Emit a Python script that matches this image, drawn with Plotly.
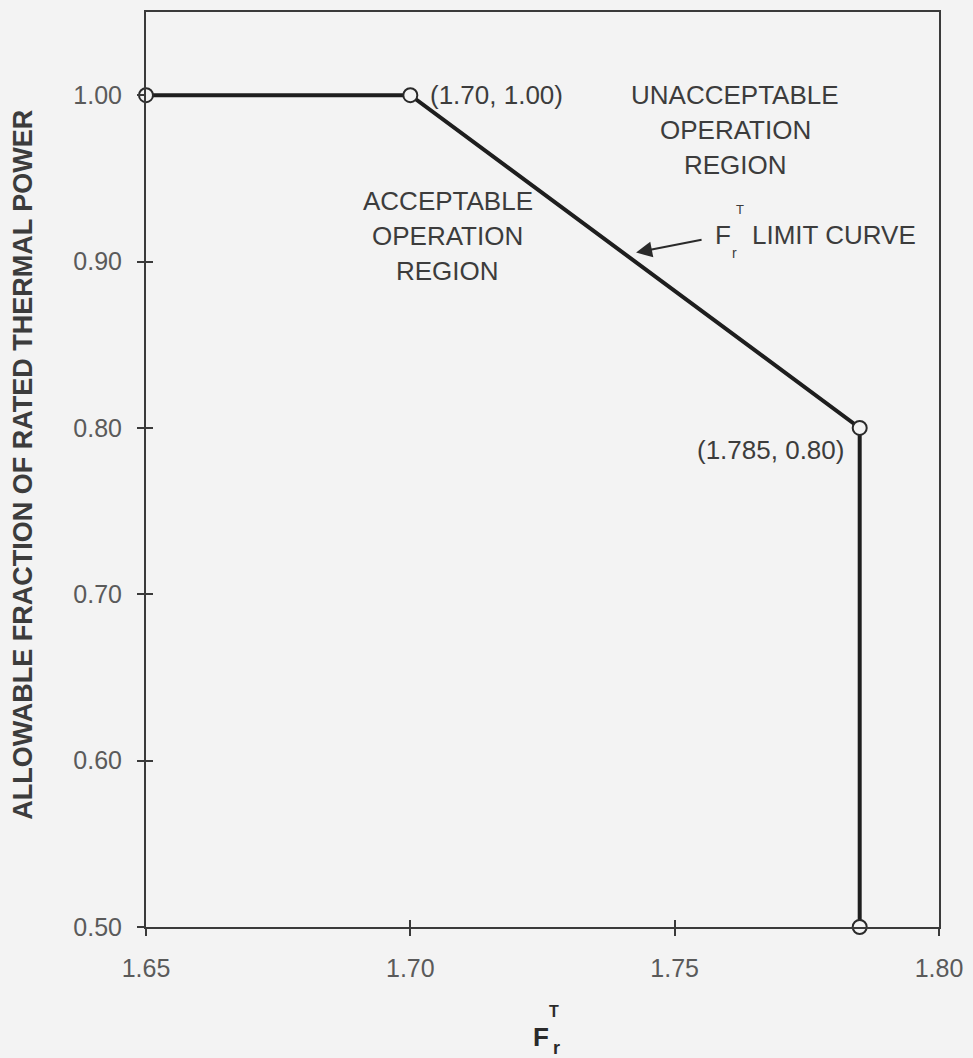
import plotly.graph_objects as go

# ---- data ----
fr_limit = [1.65, 1.70, 1.785, 1.785]
power_fraction = [1.00, 1.00, 0.80, 0.50]

x_ticks = [1.65, 1.70, 1.75, 1.80]
x_tick_labels = ["1.65", "1.70", "1.75", "1.80"]
y_ticks = [0.50, 0.60, 0.70, 0.80, 0.90, 1.00]
y_tick_labels = ["0.50", "0.60", "0.70", "0.80", "0.90", "1.00"]

x_range = [1.65, 1.80]
y_range = [0.50, 1.05]

BG = "#f3f3f3"
LINE = "#1e1e1e"
AXIS = "#3a3a3a"
FAM = "Liberation Sans, Arial"
TICKFONT = dict(family=FAM, size=25, color="#5a5a5a")
TEXTFONT = dict(family=FAM, size=26, color="#3c3c3c")

fig = go.Figure()

fig.add_trace(go.Scatter(
    x=fr_limit, y=power_fraction, mode="lines+markers",
    line=dict(color=LINE, width=4),
    marker=dict(symbol="circle", size=14, color=BG, line=dict(color="#2a2a2a", width=2)),
    showlegend=False, hoverinfo="skip", cliponaxis=False,
))
# invisible trace to carry the overlay axes (inside ticks)
fig.add_trace(go.Scatter(x=x_range, y=y_range, xaxis="x2", yaxis="y2",
                         mode="markers", marker=dict(opacity=0),
                         showlegend=False, hoverinfo="skip"))

fig.update_layout(
    width=973, height=1058,
    margin=dict(l=146, r=31, t=10, b=131),
    paper_bgcolor=BG, plot_bgcolor=BG,
    xaxis=dict(range=x_range, tickvals=x_ticks, ticktext=x_tick_labels,
               showgrid=False, zeroline=False, showline=True, mirror=True,
               linecolor=AXIS, linewidth=2, ticks="outside", ticklen=7,
               tickwidth=2, tickcolor=AXIS, tickfont=TICKFONT,
               ticklabelstandoff=11),
    yaxis=dict(range=y_range, tickvals=y_ticks, ticktext=y_tick_labels,
               showgrid=False, zeroline=False, showline=True, mirror=True,
               linecolor=AXIS, linewidth=2, ticks="outside", ticklen=7,
               tickwidth=2, tickcolor=AXIS, tickfont=TICKFONT,
               ticklabelstandoff=10),
    xaxis2=dict(range=x_range, overlaying="x", tickvals=x_ticks[1:3],
                showticklabels=False, showgrid=False, zeroline=False,
                ticks="inside", ticklen=7, tickwidth=2, tickcolor=AXIS),
    yaxis2=dict(range=y_range, overlaying="y", tickvals=y_ticks[1:5],
                showticklabels=False, showgrid=False, zeroline=False,
                ticks="inside", ticklen=7, tickwidth=2, tickcolor=AXIS),
)

ann = []
# y-axis title
ann.append(dict(text="<b>ALLOWABLE FRACTION OF RATED THERMAL POWER</b>",
                xref="paper", yref="paper", x=-0.156, y=0.5, xanchor="center",
                yanchor="middle", textangle=-90, showarrow=False,
                font=dict(family=FAM, size=27, color="#3c3c3c"),
                yshift=5))
# x-axis title F_r^T
ann.append(dict(text="<b>F</b>", xref="x", yref="paper", x=1.7248, y=0, yshift=-110,
                xanchor="center", yanchor="middle", showarrow=False,
                font=dict(family=FAM, size=26, color="#2a2a2a")))
ann.append(dict(text="<b>T</b>", xref="x", yref="paper", x=1.7271, y=0, yshift=-84,
                xanchor="center", yanchor="middle", showarrow=False,
                font=dict(family=FAM, size=16, color="#2a2a2a")))
ann.append(dict(text="<b>r</b>", xref="x", yref="paper", x=1.7277, y=0, yshift=-121,
                xanchor="center", yanchor="middle", showarrow=False,
                font=dict(family=FAM, size=18, color="#2a2a2a")))

# point labels
ann.append(dict(text="(1.70, 1.00)", x=fr_limit[1], y=power_fraction[1],
                xanchor="left", yanchor="middle", xshift=18, showarrow=False,
                font=TEXTFONT))
ann.append(dict(text="(1.785, 0.80)", x=fr_limit[2], y=power_fraction[2],
                xanchor="right", yanchor="middle", xshift=-14, yshift=-22,
                showarrow=False, font=TEXTFONT))

# region labels
for i, line in enumerate(["UNACCEPTABLE", "OPERATION", "REGION"]):
    ann.append(dict(text=line, x=1.7615, y=1.00, yshift=-35 * i,
                    xanchor="center", yanchor="middle", showarrow=False,
                    font=TEXTFONT))
for i, line in enumerate(["ACCEPTABLE", "OPERATION", "REGION"]):
    ann.append(dict(text=line, x=1.7071, y=0.9363, yshift=-35 * i,
                    xanchor="center", yanchor="middle", showarrow=False,
                    font=TEXTFONT))

# limit-curve label with arrow
ann.append(dict(text="", x=1.7427, y=0.9054, ax=67, ay=-13, axref="pixel",
                ayref="pixel", showarrow=True, arrowhead=2, arrowsize=1.6,
                arrowwidth=2, arrowcolor="#2a2a2a", standoff=0))
ann.append(dict(text="F", x=1.7572, y=0.9162, xanchor="left", yanchor="middle",
                showarrow=False, font=TEXTFONT))
ann.append(dict(text="T", x=1.7623, y=0.9312, xanchor="center", yanchor="middle",
                showarrow=False, font=dict(family=FAM, size=13, color="#3c3c3c")))
ann.append(dict(text="r", x=1.7614, y=0.9050, xanchor="center", yanchor="middle",
                showarrow=False, font=dict(family=FAM, size=14, color="#3c3c3c")))
ann.append(dict(text="LIMIT CURVE", x=1.7642, y=0.9162, xanchor="left", yanchor="middle",
                showarrow=False, font=TEXTFONT))

fig.update_layout(annotations=ann)

fig.write_html("out.html")
